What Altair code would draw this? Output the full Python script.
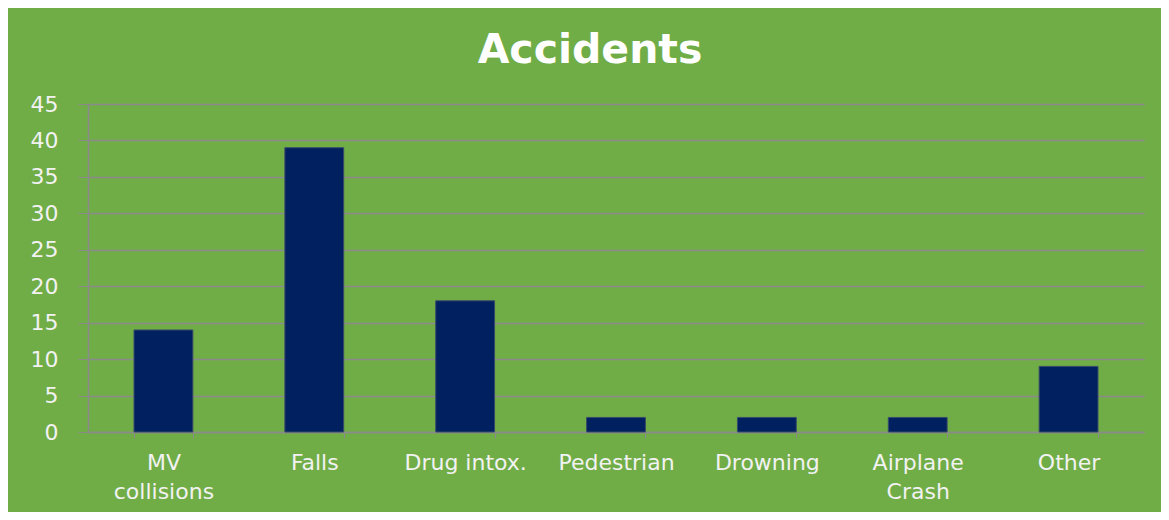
import altair as alt
import pandas as pd

categories = ["MV\ncollisions", "Falls", "Drug intox.", "Pedestrian", "Drowning", "Airplane\nCrash", "Other"]
values = [14, 39, 18, 2, 2, 2, 9]

df = pd.DataFrame({"category": categories, "value": values})

FONT = "DejaVu Sans"
LABEL = "#F2F2F2"
GRID = "#8A8A8A"

chart = alt.Chart(df).mark_bar(color="#002060", stroke="#3A4A6A", strokeWidth=1).encode(
    x=alt.X("category:N", sort=categories, title=None,
            scale=alt.Scale(paddingInner=0.61, paddingOuter=0.305),
            axis=alt.Axis(labelAngle=0, labelExpr="split(datum.label, '\\n')",
                          tickBand="extent", tickSize=6, tickColor=GRID, domainColor=GRID,
                          domainWidth=1.5, labelColor=LABEL, labelFont=FONT, labelFontSize=22,
                          labelPadding=14, labelLineHeight=29, labelBaseline="top", grid=False)),
    y=alt.Y("value:Q", title=None,
            scale=alt.Scale(domain=[0, 45], nice=False),
            axis=alt.Axis(values=list(range(0, 50, 5)), tickSize=10, tickColor=GRID,
                          domainColor=GRID, domainWidth=1.5, gridColor=GRID, gridWidth=1.5,
                          labelColor=LABEL, labelFont=FONT, labelFontSize=22, labelPadding=20)),
).properties(
    width=1056,
    height=328,
    background="#70AD47",
    padding={"left": 80, "top": 96, "right": 17, "bottom": 80},
    autosize=alt.AutoSizeParams(type="none"),
    title=alt.TitleParams("Accidents", font=FONT, fontSize=41, fontWeight="bold",
                          color="white", anchor="middle", dx=-26, offset=21),
).configure_view(stroke=None)

chart.save("out.html", embed_options={"renderer": "svg", "actions": False})
